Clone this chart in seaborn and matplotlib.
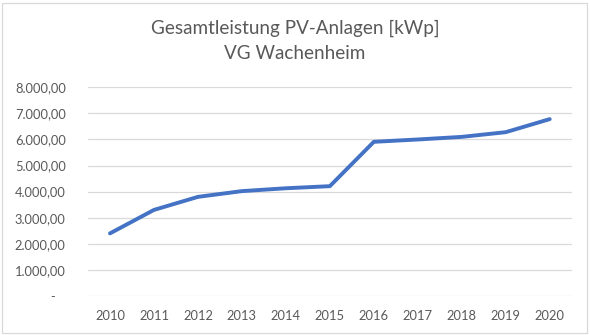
import matplotlib
matplotlib.use("Agg")
import matplotlib.pyplot as plt
import seaborn as sns
import pandas as pd
from matplotlib.patches import Rectangle

years = ["2010", "2011", "2012", "2013", "2014", "2015", "2016", "2017", "2018", "2019", "2020"]
leistung = [2400, 3300, 3800, 4020, 4130, 4210, 5910, 6000, 6100, 6280, 6780]
yticks = [0, 1000, 2000, 3000, 4000, 5000, 6000, 7000, 8000]
title = "Gesamtleistung PV-Anlagen [kWp]\nVG Wachenheim"

sns.set_style("white")
plt.rcParams['font.family'] = ['Lato', 'DejaVu Sans']

df = pd.DataFrame({"Jahr": years, "kWp": leistung})

fig = plt.figure(figsize=(5.9, 3.35), dpi=100)
ax = fig.add_axes([88/590, 1-296/335, (571.7-88)/590, (296-87.3)/335])

sns.lineplot(data=df, x="Jahr", y="kWp", ax=ax, color="#4472C4", linewidth=2.8,
             sort=False, solid_capstyle="round", solid_joinstyle="round")

ax.set_xlim(-0.5, len(years)-0.5)
ax.set_ylim(0, 8000)
ax.set_yticks(yticks)

def fmt(v):
    if v == 0:
        return "-   "
    s = f"{v:,.2f}"
    return s.replace(",", "X").replace(".", ",").replace("X", ".")

ax.set_yticklabels([fmt(v) for v in yticks])
ax.grid(axis="y", color="#D9D9D9", linewidth=0.9)
ax.set_axisbelow(True)
for sp in ax.spines.values():
    sp.set_visible(False)
ax.tick_params(axis="both", length=0, labelsize=9.3, labelcolor="#595959")
ax.tick_params(axis="y", pad=16)
ax.tick_params(axis="x", pad=10)
ax.set_xlabel("")
ax.set_ylabel("")

fig.text(0.5, 1-41/335, title, ha="center", va="center", fontsize=13.6,
         color="#595959", linespacing=1.6)

fig.patches.append(Rectangle((2/590, 2/335), 585/590, 330/335, transform=fig.transFigure,
                             fill=False, edgecolor="#D9D9D9", linewidth=0.9))

fig.savefig("out.png", dpi=100, facecolor="white")
